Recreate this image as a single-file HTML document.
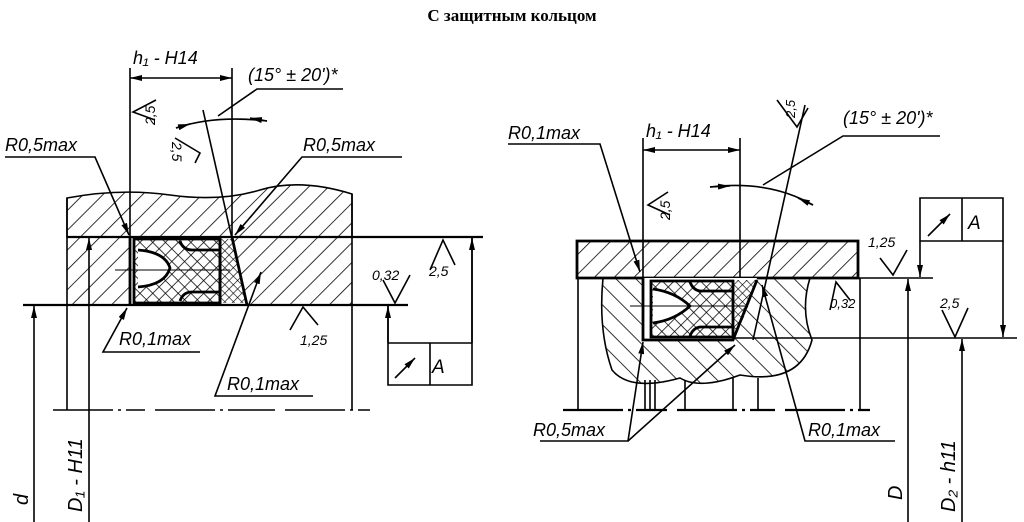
<!DOCTYPE html>
<html><head><meta charset="utf-8"><style>
html,body{margin:0;padding:0;background:#fff;}
svg{display:block;}
text{font-family:"Liberation Sans",sans-serif;font-style:italic;fill:#000;}
</style></head><body>
<svg width="1024" height="522" viewBox="0 0 1024 522" xmlns="http://www.w3.org/2000/svg">
<defs>
<pattern id="h1" width="14" height="14" patternUnits="userSpaceOnUse" patternTransform="rotate(45)">
<line x1="0" y1="0" x2="0" y2="14" stroke="#000" stroke-width="1.6"/></pattern>
<pattern id="h2" width="14" height="14" patternUnits="userSpaceOnUse" patternTransform="rotate(-45)">
<line x1="0" y1="0" x2="0" y2="14" stroke="#000" stroke-width="1.6"/></pattern>
<pattern id="x1" width="9" height="9" patternUnits="userSpaceOnUse" patternTransform="rotate(45)">
<path d="M0 0V9M0 0H9" stroke="#000" stroke-width="1.5"/></pattern>
<pattern id="x2" width="6" height="6" patternUnits="userSpaceOnUse" patternTransform="rotate(45)">
<path d="M0 0V6M0 0H6" stroke="#000" stroke-width="1.2"/></pattern>
<marker id="a" markerWidth="12" markerHeight="6" refX="12" refY="3" orient="auto-start-reverse" markerUnits="userSpaceOnUse">
<path d="M0 0L12 3L0 6z" fill="#000"/></marker>
</defs>
<text x="512" y="21" text-anchor="middle" style="font-family:'Liberation Serif',serif;font-style:normal;font-weight:bold;font-size:17px">С защитным кольцом</text>

<g stroke="#000" fill="none" stroke-width="1.6">
<!-- LEFT -->
<path d="M67 237V198Q120 188 170 195T260 190T352 194V237Z" fill="url(#h1)"/>
<path d="M67 237H130V305H67Z" fill="url(#h1)" stroke="none"/>
<path d="M232 237H352V305H247Z" fill="url(#h1)" stroke="none"/>
<path d="M220 239H232L246 303H220Z" fill="url(#x2)" stroke="none"/>
<path d="M134 239H220V303H134Z" fill="url(#x1)" stroke-width="2.8"/>
<path d="M138 250Q165 252 170 268Q165 285 138 287" fill="#fff" stroke-width="2.8"/>
<path d="M180 241Q183 250 192 250H220M180 301Q183 292 192 292H220" stroke-width="2.8"/>
<path d="M130 237V305M220 237V305M232 237L247 305" stroke-width="2.8"/>
<path d="M67 237H483M23 305H408" stroke-width="2.2"/>
<path d="M67 198V410M352 194V410"/>
<path d="M53 410H145M155 410H275M285 410H370" stroke-dasharray="60 5 3 5"/>
<path d="M115 270H230" stroke-width="0.9"/>
<path d="M130 237V68M232 237V68"/>
<path d="M130 78H232" marker-start="url(#a)" marker-end="url(#a)"/>
<path d="M203 110L247 305"/>
<path d="M176 128Q215 115 267 121" />
<path d="M176 128L190 124" marker-end="url(#a)"/><path d="M267 121L250 118" marker-end="url(#a)"/>
<path d="M343 89H257L218 116"/>
<path d="M5 157H95L129 235" marker-end="url(#a)"/>
<path d="M402 157H302L235 235" marker-end="url(#a)"/>
<path d="M200 352H103L127 308" marker-end="url(#a)"/>
<path d="M313 396H215L261 272" marker-end="url(#a)"/>
<path d="M155 120L133 112L156 100M175 138L200 153L195 163"/>
<path d="M290 330L303 307L318 325M383 280L395 303L410 275M430 270L443 240L455 265"/>
<path d="M472 237V355M388 343H472V385H388ZM430 343V385M388 343V306" />
<path d="M472 343V238" marker-end="url(#a)"/><path d="M388 343V306" marker-end="url(#a)"/>
<path d="M395 378L415 358" marker-end="url(#a)"/>
<path d="M34 522V306" marker-end="url(#a)"/>
<path d="M89 522V238" marker-end="url(#a)"/>

<!-- RIGHT -->
<path d="M577 241H858V278H577Z" fill="url(#h1)" stroke-width="2.8"/>
<path d="M603 278H810Q800 310 812 340Q800 385 740 375Q700 390 680 378Q630 392 612 370Q598 330 603 278Z" fill="url(#h2)"/>
<path d="M643 278H757Q745 320 733 340H643Z" fill="#fff" stroke="none"/>
<path d="M733 280H757Q745 320 733 338Z" fill="url(#x2)" stroke="none"/>
<path d="M651 281H733V337H651Z" fill="url(#x1)" stroke-width="2.8"/>
<path d="M653 289Q675 292 690 306Q675 320 653 323" fill="#fff" stroke-width="2.8"/>
<path d="M690 282Q693 290 700 291H733M690 336Q693 328 700 327H733" stroke-width="2.8"/>
<path d="M643 278V340H733L757 280" stroke-width="2.8"/>
<path d="M858 278H933M733 338H1017"/>
<path d="M578 278V410M860 278V410"/>
<path d="M563 410H667M677 410H775M785 410H870" stroke-dasharray="60 5 3 5" stroke-width="2.2"/>
<path d="M645 380V410M650 380V410M655 380V410M685 380V410M733 378V410M758 378V410"/>
<path d="M630 306H745" stroke-width="0.9"/>
<path d="M643 278V138M740 278V138"/>
<path d="M643 150H740" marker-start="url(#a)" marker-end="url(#a)"/>
<path d="M805 105L753 340"/>
<path d="M710 187Q770 180 813 205"/>
<path d="M710 187L730 186" marker-end="url(#a)"/><path d="M813 205L798 198" marker-end="url(#a)"/>
<path d="M940 136H843L763 185"/>
<path d="M508 144H600L640 272" marker-end="url(#a)"/>
<path d="M540 441H628L643 342" marker-end="url(#a)"/>
<path d="M628 441L735 345" marker-end="url(#a)"/>
<path d="M895 441H805L762 285" marker-end="url(#a)"/>
<path d="M777 100L797 127L808 108M670 215L648 205L668 192M880 258L893 275L907 250M830 310L836 282L850 300M942 310L955 337L968 308"/>
<path d="M920 198H1003V241H920ZM962 198V241"/>
<path d="M920 241V277" marker-end="url(#a)"/><path d="M1003 241V337" marker-end="url(#a)"/>
<path d="M928 236L950 214" marker-end="url(#a)"/>
<path d="M908 522V279" marker-end="url(#a)"/>
<path d="M962 522V339" marker-end="url(#a)"/>
</g>

<g font-size="18">
<text x="133" y="64">h₁ - H14</text>
<text x="248" y="81">(15° ± 20')*</text>
<text x="5" y="151">R0,5max</text>
<text x="303" y="151">R0,5max</text>
<text x="119" y="345">R0,1max</text>
<text x="227" y="390">R0,1max</text>
<text x="432" y="373" font-size="19">A</text>
<text x="646" y="137">h₁ - H14</text>
<text x="843" y="124">(15° ± 20')*</text>
<text x="508" y="139">R0,1max</text>
<text x="533" y="436">R0,5max</text>
<text x="808" y="436">R0,1max</text>
<text x="968" y="229" font-size="19">A</text>
</g>
<g font-size="14">
<text x="155" y="125" transform="rotate(-90 155 125)">2,5</text>
<text x="172" y="142" transform="rotate(90 172 142)">2,5</text>
<text x="300" y="345">1,25</text>
<text x="372" y="280">0,32</text>
<text x="429" y="276">2,5</text>
<text x="795" y="118" transform="rotate(-90 795 118)" font-size="13">2,5</text>
<text x="670" y="220" transform="rotate(-90 670 220)">2,5</text>
<text x="868" y="247">1,25</text>
<text x="830" y="308" font-size="13">0,32</text>
<text x="940" y="308">2,5</text>
</g>
<g font-size="20">
<text x="28" y="505" transform="rotate(-90 28 505)">d</text>
<text x="82" y="512" transform="rotate(-90 82 512)">D₁ - H11</text>
<text x="902" y="500" transform="rotate(-90 902 500)">D</text>
<text x="955" y="512" transform="rotate(-90 955 512)">D₂ - h11</text>
</g>
</svg>
</body></html>
